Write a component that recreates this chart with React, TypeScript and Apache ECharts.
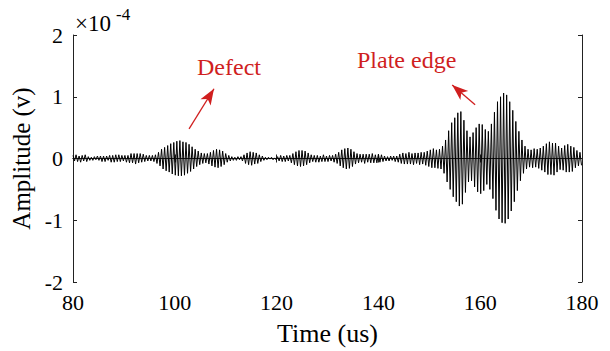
import React, { useEffect, useRef } from "react";
import * as echarts from "echarts";

// Sampling grid of the signal (µs)
const startUs = 80;
const sampleStepUs = 0.3;

// Signal peaks (×1e-4 V), one value per sample (rows of 3 µs)
const amplitudeRows: number[][] = [
  [0.05, -0.04, 0.06, -0.05, 0.04, -0.06, 0.05, -0.04, 0.06, -0.05],
  [0.03, -0.03, 0.02, -0.03, 0.03, -0.02, 0.04, -0.03, 0.04, -0.05],
  [0.04, -0.05, 0.04, -0.03, 0.05, -0.06, 0.05, -0.06, 0.06, -0.05],
  [0.06, -0.05, 0.05, -0.04, 0.05, -0.06, 0.05, -0.07, 0.08, -0.07],
  [0.08, -0.09, 0.08, -0.07, 0.08, -0.06, 0.07, -0.05, 0.05, -0.04],
  [0.05, -0.04, 0.05, -0.05, 0.06, -0.08, 0.1, -0.12, 0.15, -0.17],
  [0.18, -0.2, 0.21, -0.22, 0.24, -0.25, 0.26, -0.27, 0.28, -0.28],
  [0.29, -0.28, 0.27, -0.27, 0.26, -0.24, 0.23, -0.21, 0.19, -0.17],
  [0.15, -0.13, 0.12, -0.1, 0.09, -0.08, 0.08, -0.07, 0.08, -0.09],
  [0.1, -0.12, 0.13, -0.14, 0.15, -0.15, 0.14, -0.13, 0.12, -0.1],
  [0.08, -0.06, 0.05, -0.04, 0.03, -0.03, 0.02, -0.03, 0.03, -0.02],
  [0.03, -0.04, 0.06, -0.08, 0.09, -0.1, 0.11, -0.11, 0.1, -0.09],
  [0.09, -0.08, 0.06, -0.05, 0.04, -0.03, 0.02, -0.02, 0.02, -0.01],
  [0.02, -0.02, 0.01, -0.02, 0.03, -0.04, 0.05, -0.05, 0.04, -0.05],
  [0.05, -0.04, 0.05, -0.07, 0.08, -0.1, 0.11, -0.12, 0.13, -0.13],
  [0.13, -0.12, 0.12, -0.1, 0.09, -0.07, 0.06, -0.05, 0.05, -0.06],
  [0.05, -0.06, 0.04, -0.05, 0.06, -0.05, 0.04, -0.05, 0.05, -0.04],
  [0.05, -0.06, 0.07, -0.08, 0.1, -0.12, 0.14, -0.15, 0.16, -0.17],
  [0.17, -0.16, 0.15, -0.13, 0.11, -0.09, 0.08, -0.07, 0.07, -0.06],
  [0.07, -0.08, 0.07, -0.06, 0.07, -0.07, 0.08, -0.07, 0.06, -0.07],
  [0.07, -0.06, 0.06, -0.05, 0.04, -0.04, 0.03, -0.04, 0.04, -0.03],
  [0.04, -0.05, 0.04, -0.06, 0.07, -0.08, 0.09, -0.09, 0.08, -0.09],
  [0.1, -0.09, 0.08, -0.1, 0.09, -0.08, 0.09, -0.1, 0.1, -0.09],
  [0.1, -0.11, 0.12, -0.13, 0.14, -0.15, 0.16, -0.15, 0.14, -0.16],
  [0.15, -0.17, 0.2, -0.24, 0.3, -0.38, 0.45, -0.5, 0.58, -0.62],
  [0.66, -0.7, 0.74, -0.77, 0.76, -0.74, 0.62, -0.55, 0.45, -0.38],
  [0.35, -0.36, 0.42, -0.46, 0.5, -0.54, 0.56, -0.57, 0.55, -0.52],
  [0.47, -0.42, 0.44, -0.5, 0.56, -0.65, 0.75, -0.84, 0.92, -0.98],
  [1.0, -1.04, 1.06, -1.05, 1.03, -0.98, 0.92, -0.85, 0.78, -0.7],
  [0.6, -0.52, 0.44, -0.36, 0.3, -0.24, 0.2, -0.17, 0.15, -0.14],
  [0.14, -0.15, 0.16, -0.14, 0.15, -0.16, 0.17, -0.19, 0.2, -0.22],
  [0.24, -0.26, 0.27, -0.26, 0.25, -0.27, 0.25, -0.22, 0.2, -0.18],
  [0.17, -0.19, 0.21, -0.22, 0.23, -0.22, 0.2, -0.21, 0.18, -0.15],
  [0.13, -0.12, 0.1, -0.11],
];

// Axis ticks
const xTicks = { min: 80, max: 180, interval: 20 };
const yTicks = { min: -2, max: 2, interval: 1 };

// Annotations: [tail(time, amp), head(time, amp)]
const defectArrow = [[102.8, 0.48], [107.7, 1.13]];
const edgeArrow = [[159.0, 0.87], [154.5, 1.19]];
const defectLabel = "Defect";
const edgeLabel = "Plate edge";

const FONT = "Liberation Serif";
const RED = "#d01f1f";

export default function App() {
  const ref = useRef<HTMLDivElement>(null);

  useEffect(() => {
    if (!ref.current) return;
    const chart = echarts.init(ref.current, undefined, { renderer: "svg" });
    const amps = amplitudeRows.flat();
    const data = amps.map((v, i) => [startUs + i * sampleStepUs, v]);

    const axisLine = { show: true, lineStyle: { color: "#222", width: 1 } };
    const tickIn = { show: true, inside: true, length: 4, lineStyle: { color: "#222" } };

    chart.setOption({
      animation: false,
      backgroundColor: "#fff",
      textStyle: { fontFamily: FONT },
      grid: { left: 73, top: 35, width: 509, height: 248, containLabel: false },
      xAxis: [
        {
          type: "value",
          position: "bottom",
          min: xTicks.min,
          max: xTicks.max,
          interval: xTicks.interval,
          axisLine,
          axisTick: tickIn,
          splitLine: { show: false },
          axisLabel: { color: "#000", fontFamily: FONT, fontSize: 22, margin: 9 },
          name: "Time (us)",
          nameLocation: "middle",
          nameGap: 38,
          nameTextStyle: { color: "#000", fontFamily: FONT, fontSize: 26 },
        },
        {
          type: "value",
          position: "top",
          min: xTicks.min,
          max: xTicks.max,
          interval: xTicks.interval,
          axisLine,
          axisTick: tickIn,
          splitLine: { show: false },
          axisLabel: { show: false },
        },
      ],
      yAxis: [
        {
          type: "value",
          position: "left",
          min: yTicks.min,
          max: yTicks.max,
          interval: yTicks.interval,
          axisLine,
          axisTick: tickIn,
          splitLine: { show: false },
          axisLabel: { color: "#000", fontFamily: FONT, fontSize: 22, margin: 10 },
          name: "Amplitude (v)",
          nameLocation: "middle",
          nameRotate: 90,
          nameGap: 31,
          nameTextStyle: { color: "#000", fontFamily: FONT, fontSize: 25 },
        },
        {
          type: "value",
          position: "right",
          min: yTicks.min,
          max: yTicks.max,
          interval: yTicks.interval,
          axisLine,
          axisTick: tickIn,
          splitLine: { show: false },
          axisLabel: { show: false },
        },
      ],
      series: [
        {
          type: "line",
          data,
          showSymbol: false,
          symbol: "none",
          lineStyle: { color: "#000", width: 1 },
          silent: true,
          markLine: {
            silent: true,
            symbol: ["none", "arrow"],
            symbolSize: [9, 16],
            label: { show: false },
            lineStyle: { color: RED, width: 1.3, type: "solid" },
            data: [
              [{ coord: defectArrow[0] }, { coord: defectArrow[1] }],
              [{ coord: edgeArrow[0] }, { coord: edgeArrow[1] }],
            ],
          },
        },
      ],
      graphic: [
        {
          type: "text",
          left: 197,
          top: 55,
          style: { text: defectLabel, fill: RED, fontFamily: FONT, fontSize: 24 },
        },
        {
          type: "text",
          left: 357,
          top: 48,
          style: { text: edgeLabel, fill: RED, fontFamily: FONT, fontSize: 24 },
        },
        {
          type: "text",
          left: 75,
          top: 12,
          style: { text: "×10", fill: "#000", fontFamily: FONT, fontSize: 23 },
        },
        {
          type: "text",
          left: 116,
          top: 6,
          style: { text: "-4", fill: "#000", fontFamily: FONT, fontSize: 17 },
        },
      ],
    });
    return () => chart.dispose();
  }, []);

  return (
    <div
      ref={ref}
      style={{ position: "fixed", left: 0, top: 0, width: 610, height: 351 }}
    />
  );
}
